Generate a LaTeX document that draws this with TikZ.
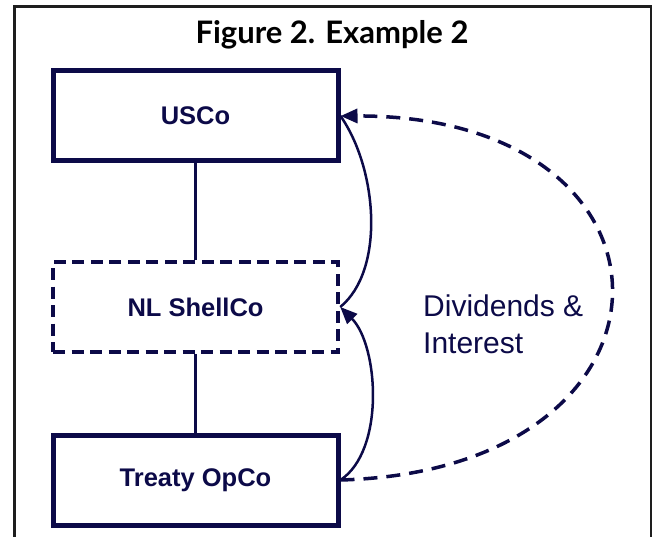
\documentclass[tikz,border=0pt]{standalone}
\usepackage{fontspec}
\usepackage{tikz}
\usetikzlibrary{arrows.meta}
\newfontfamily\latofont{Lato}
\newfontfamily\arialfont{Liberation Sans}
\definecolor{navy}{RGB}{12,10,72}
\definecolor{framec}{RGB}{30,30,30}

\begin{document}
\begin{tikzpicture}[x=1pt,y=-1pt,
  entity/.style={draw=navy,line width=5pt,minimum width=285pt,minimum height=90pt,
    text=navy,font=\arialfont\bfseries\fontsize{25.5}{30}\selectfont},
  shell/.style={entity,line width=4.5pt,dash pattern=on 12pt off 6.5pt},
  owns/.style={navy,line width=2.2pt},
  flow/.style={navy,line width=2.5pt,-{Triangle[length=17pt,width=14pt]}},
  payflow/.style={navy,line width=3.5pt,dash pattern=on 14pt off 9pt,-{Triangle[length=17pt,width=14pt]}}]
  \useasboundingbox (0,0) rectangle (652,537);
  \draw[framec,line width=3pt] (14,560) -- (14,7) -- (651,7) -- (651,560);
  \node[anchor=base,font=\latofont\bfseries\fontsize{31}{36}\selectfont] (title) at (332,44) {Figure 2. Example 2};
  \node[entity] (usco) at (195.5,116) {USCo};
  \node[shell] (shellco) at (195.5,307) {NL ShellCo};
  \node[entity] (opco) at (195.5,480) {Treaty OpCo};
  \draw[owns] (usco) -- (shellco);
  \draw[owns] (shellco) -- (opco);
  \draw[navy,line width=2.5pt] (shellco.east) .. controls +(45,-37) and +(37,53) .. (usco.east);
  \draw[flow] (opco.east) .. controls +(45,-30) and +(38,38) .. (shellco.east);
  \draw[payflow] (opco.east) .. controls +(360,-10) and +(360,-1) .. (usco.east);
  \node[anchor=base west,align=left,inner sep=0pt,text=navy,
    font=\arialfont\fontsize{30}{37}\selectfont] (label) at (423,353) {Dividends \&\\Interest};
\end{tikzpicture}
\end{document}
